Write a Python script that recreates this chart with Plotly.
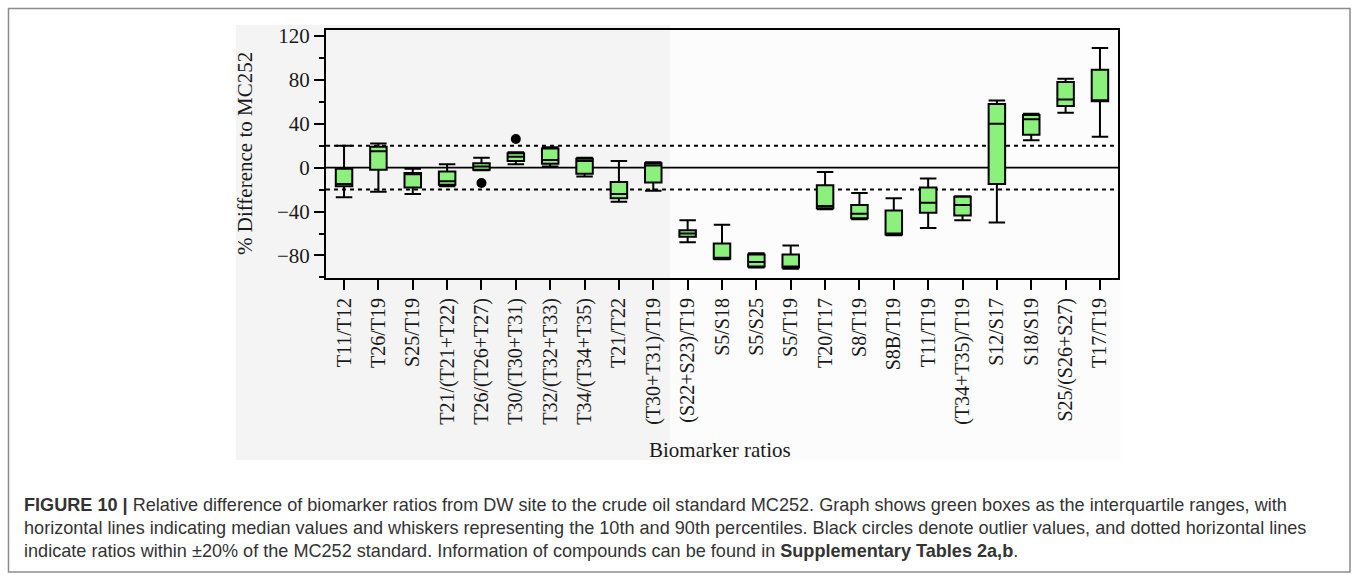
import plotly.graph_objects as go

# Biomarker ratios (x categories)
ratios = [
    "T11/T12", "T26/T19", "S25/T19", "T21/(T21+T22)", "T26/(T26+T27)",
    "T30/(T30+T31)", "T32/(T32+T33)", "T34/(T34+T35)", "T21/T22",
    "(T30+T31)/T19", "(S22+S23)/T19", "S5/S18", "S5/S25", "S5/T19",
    "T20/T17", "S8/T19", "S8B/T19", "T11/T19", "(T34+T35)/T19",
    "S12/S17", "S18/S19", "S25/(S26+S27)", "T17/T19",
]

# % difference to MC252: 10th percentile, Q1, median, Q3, 90th percentile
p10 = [-27, -22, -24, -17, -2.5, 3, 1, -8, -31, -21, -68, -83.5, -91, -92,
       -38, -47, -61.5, -55, -48, -50, 25, 50, 28]
q1 = [-17, -2, -18, -15.5, -2, 6, 3.5, -5.5, -28, -13.5, -63, -83, -90, -91,
      -37, -46, -61, -41, -43.5, -15, 30, 56, 60.5]
median = [-15, 15, -6, -12.5, 1, 10, 7, 6, -24, 2, -60, -82, -86, -90,
          -35, -42, -60, -32, -34, 40, 44, 62, 61]
q3 = [-1, 19, -5, -3.5, 4, 13, 17.5, 8, -13, 4, -57, -69, -79, -79,
      -16, -34, -39, -18, -26.5, 58, 48, 78, 89]
p90 = [20, 22, -1, 3, 9, 14, 18.5, 9, 6, 5, -48, -52, -78, -71,
       -4, -23, -28, -10, -26, 61, 49, 81, 109]

# Outliers
outlier_ratios = ["T26/(T26+T27)", "T30/(T30+T31)"]
outlier_values = [-14, 26]

# Reference band (+/-20 % of the MC252 standard)
band = [-20, 20]

yticks = [-80, -40, 0, 40, 80, 120]

L, R, T, B = 326, 240, 30, 297
W, H = 1358, 575
PW, PH = W - L - R, H - T - B


def px(x):
    return (x - L) / PW


def py(y):
    return 1 - (y - T) / PH


serif = "Liberation Serif, Times New Roman, serif"
sans = "Liberation Sans, Arial, sans-serif"

fig = go.Figure()

fig.add_trace(go.Box(
    x=ratios, q1=q1, median=median, q3=q3,
    lowerfence=p10, upperfence=p90,
    width=0.48, whiskerwidth=1,
    fillcolor="#8cf07c",
    line=dict(color="black", width=2),
    boxpoints=False, showlegend=False, hoverinfo="skip",
))

fig.add_trace(go.Scatter(
    x=outlier_ratios, y=outlier_values, mode="markers",
    marker=dict(color="black", size=10),
    showlegend=False, hoverinfo="skip",
))

annotations = [
    dict(text="% Difference to MC252", xref="paper", yref="paper",
         x=px(245), y=py(154), textangle=-90, showarrow=False,
         font=dict(family=serif, size=21, color="#1a1a1a"),
         xanchor="center", yanchor="middle"),
    dict(text="Biomarker ratios", xref="paper", yref="paper",
         x=px(720), y=py(450), showarrow=False,
         font=dict(family=serif, size=21, color="#1a1a1a"),
         xanchor="center", yanchor="middle"),
]

caption = [
    "<b>FIGURE 10 |</b> Relative difference of biomarker ratios from DW site to the crude oil "
    "standard MC252. Graph shows green boxes as the interquartile ranges, with",
    "horizontal lines indicating median values and whiskers representing the 10th and 90th "
    "percentiles. Black circles denote outlier values, and dotted horizontal lines",
    "indicate ratios within \u00b120% of the MC252 standard. Information of compounds can be "
    "found in <b>Supplementary Tables 2a,b</b>.",
]
for i, line in enumerate(caption):
    annotations.append(dict(
        text=line, xref="paper", yref="paper",
        x=px(22), y=py(505 + 23 * i), showarrow=False,
        xanchor="left", yanchor="middle", align="left",
        font=dict(family=sans, size=18.1, color="#333333"),
    ))

fig.update_layout(
    width=W, height=H,
    margin=dict(l=L, r=R, t=T, b=B, autoexpand=False),
    paper_bgcolor="white",
    plot_bgcolor="rgba(0,0,0,0)",
    annotations=annotations,
    xaxis=dict(
        type="category", categoryorder="array", categoryarray=ratios,
        range=[-0.525, len(ratios) - 0.475],
        showline=True, linecolor="black", linewidth=2, mirror=True,
        ticks="outside", ticklen=10, tickwidth=1.5, tickcolor="black",
        tickangle=-90, showgrid=False, zeroline=False,
        tickfont=dict(family=serif, size=20, color="#1a1a1a"),
    ),
    yaxis=dict(
        range=[-100.5, 125.3], tickmode="array", tickvals=yticks,
        showline=True, linecolor="black", linewidth=2, mirror=True,
        ticks="outside", ticklen=10, tickwidth=1.5, tickcolor="black",
        minor=dict(tickmode="linear", tick0=0, dtick=20, ticks="outside",
                   ticklen=5, tickwidth=1.5, tickcolor="black", showgrid=False),
        showgrid=False, zeroline=False,
        tickfont=dict(family=serif, size=21, color="#1a1a1a"),
    ),
)

# light grey panel behind the left half of the graphic, near-white on the right
fig.add_shape(type="rect", xref="paper", yref="paper",
              x0=px(236), x1=px(670), y0=py(460), y1=py(25),
              fillcolor="#f4f4f4", line=dict(width=0), layer="below")
fig.add_shape(type="rect", xref="paper", yref="paper",
              x0=px(670), x1=px(1121), y0=py(460), y1=py(25),
              fillcolor="#fcfcfc", line=dict(width=0), layer="below")
# figure frame
fig.add_shape(type="rect", xref="paper", yref="paper",
              x0=px(8.5), x1=px(1350), y0=py(572), y1=py(8.5),
              fillcolor="rgba(0,0,0,0)",
              line=dict(color="#8c8c8c", width=1.5, dash="solid"),
              layer="below")

# zero line and dotted +/-20 % lines
fig.add_hline(y=0, line=dict(color="black", width=1.8), layer="below")
for v in band:
    fig.add_hline(y=v, line=dict(color="black", width=2, dash="4px,4px"), layer="below")

fig.write_html("out.html")
